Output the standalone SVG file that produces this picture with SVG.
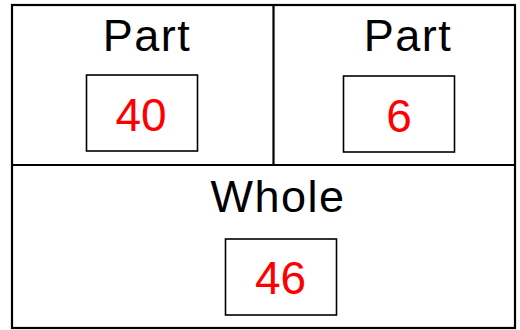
<svg xmlns="http://www.w3.org/2000/svg" width="520" height="330" viewBox="0 0 520 330">
<style>
.frame{fill:none;stroke:#000;stroke-width:2.2}
.box{fill:#fff;stroke:#000;stroke-width:1.6}
.lbl{font-family:"Liberation Sans",Arial,sans-serif;font-size:45px;fill:#000;text-anchor:middle;letter-spacing:1.5px}
.num{font-family:"Liberation Sans",Arial,sans-serif;font-size:46px;fill:#ff0000;text-anchor:middle}
</style>
<rect width="520" height="330" fill="#fff"/>
<g id="frame">
<rect class="frame" x="12" y="5" width="503" height="323"/>
<line class="frame" x1="12" y1="165" x2="515" y2="165"/>
<line class="frame" x1="273.5" y1="5" x2="273.5" y2="165"/>
</g>
<g id="part1">
<text class="lbl" x="147" y="51">Part</text>
<rect class="box" x="86.5" y="75" width="111" height="76"/>
<text class="num" x="141" y="131">40</text>
</g>
<g id="part2">
<text class="lbl" x="408" y="51">Part</text>
<rect class="box" x="343.5" y="76" width="111" height="76"/>
<text class="num" x="399" y="132">6</text>
</g>
<g id="whole">
<text class="lbl" x="278" y="212">Whole</text>
<rect class="box" x="225.5" y="239" width="111" height="76"/>
<text class="num" x="280.5" y="294">46</text>
</g>
<g id="connectors"></g>
</svg>
